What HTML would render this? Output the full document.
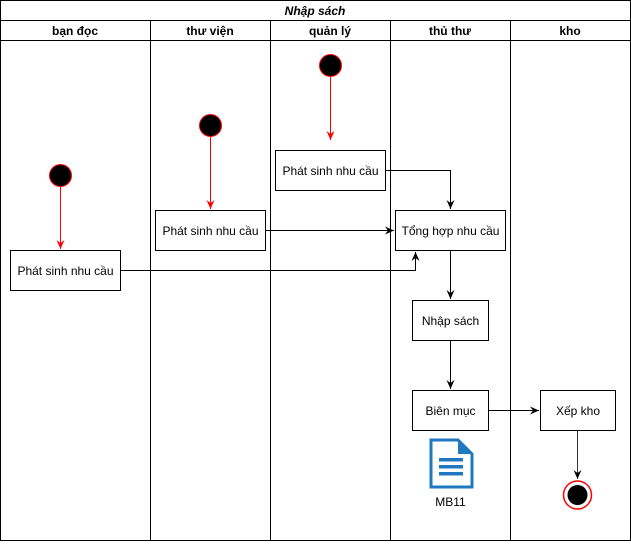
<!DOCTYPE html>
<html><head><meta charset="utf-8"><style>body{margin:0;background:#fff}</style></head><body>
<svg width="631" height="541" viewBox="0 0 631 541" xmlns="http://www.w3.org/2000/svg" font-family="Liberation Sans, Arial, sans-serif">
<defs>
<marker id="ab" markerWidth="10" markerHeight="10" refX="9" refY="5" orient="auto" markerUnits="userSpaceOnUse"><path d="M0,1 L9,5 L0,9 L3,5 Z" fill="#000"/></marker>
<marker id="ar" markerWidth="10" markerHeight="10" refX="9" refY="5" orient="auto" markerUnits="userSpaceOnUse"><path d="M0,1 L9,5 L0,9 L3,5 Z" fill="#f00"/></marker>
</defs>
<rect x="0.5" y="0.5" width="630" height="540" fill="#fff" stroke="#000"/>
<line x1="0" y1="20.5" x2="631" y2="20.5" stroke="#000"/>
<line x1="0" y1="40.5" x2="631" y2="40.5" stroke="#000"/>
<g stroke="#000"><line x1="150.5" y1="20" x2="150.5" y2="541"/><line x1="270.5" y1="20" x2="270.5" y2="541"/><line x1="390.5" y1="20" x2="390.5" y2="541"/><line x1="510.5" y1="20" x2="510.5" y2="541"/></g>
<text x="315" y="15" font-size="12" font-style="italic" font-weight="bold" text-anchor="middle">Nhập sách</text>
<g font-size="12" font-weight="bold" text-anchor="middle">
<text x="75" y="35">bạn đọc</text><text x="210" y="35">thư viện</text><text x="330" y="35">quản lý</text><text x="450" y="35">thủ thư</text><text x="570" y="35">kho</text></g>
<g fill="#000" stroke="#f00"><circle cx="60.5" cy="175.5" r="11"/><circle cx="210.5" cy="125.5" r="11"/><circle cx="330.5" cy="65.5" r="11"/></g>
<g stroke="#f00" marker-end="url(#ar)"><line x1="60.5" y1="187" x2="60.5" y2="249"/><line x1="210.5" y1="137" x2="210.5" y2="209"/><line x1="330.5" y1="77" x2="330.5" y2="140"/></g>
<g fill="#fff" stroke="#000">
<rect x="10.5" y="250.5" width="110" height="40"/><rect x="155.5" y="210.5" width="110" height="40"/><rect x="275.5" y="150.5" width="110" height="40"/><rect x="395.5" y="210.5" width="110" height="40"/><rect x="412.5" y="300.5" width="76" height="40"/><rect x="412.5" y="390.5" width="76" height="40"/><rect x="540.5" y="390.5" width="75" height="40"/></g>
<g font-size="12" text-anchor="middle">
<text x="65.5" y="275">Phát sinh nhu cầu</text><text x="210.5" y="235">Phát sinh nhu cầu</text><text x="330.5" y="175">Phát sinh nhu cầu</text><text x="450.5" y="235">Tổng hợp nhu cầu</text><text x="450.5" y="325">Nhập sách</text><text x="450.5" y="415">Biên mục</text><text x="578" y="415">Xếp kho</text><text x="450.5" y="506">MB11</text></g>
<g stroke="#000" fill="none" marker-end="url(#ab)">
<line x1="265" y1="230.5" x2="394" y2="230.5"/>
<polyline points="385,170.5 450.5,170.5 450.5,209"/>
<polyline points="120,270.5 415.5,270.5 415.5,252"/>
<line x1="450.5" y1="250" x2="450.5" y2="299"/>
<line x1="450.5" y1="340" x2="450.5" y2="389"/>
<line x1="488" y1="410.5" x2="539" y2="410.5"/>
<line x1="577.5" y1="430" x2="577.5" y2="479" stroke="#333"/>
</g>
<circle cx="577.5" cy="495" r="14" fill="#fff" stroke="#f00" stroke-width="1.5"/>
<circle cx="577.5" cy="495" r="10" fill="#000"/>
<path d="M431,440 H458 L472,454 V487 H431 Z" fill="#fff" stroke="#1f78c0" stroke-width="3"/>
<path d="M458,440 V454 H472" fill="#1f78c0"/>
<g fill="#1f78c0"><rect x="439" y="458" width="24" height="3.5"/><rect x="439" y="465" width="24" height="3.5"/><rect x="439" y="472" width="24" height="3.5"/></g>
</svg>
</body></html>
